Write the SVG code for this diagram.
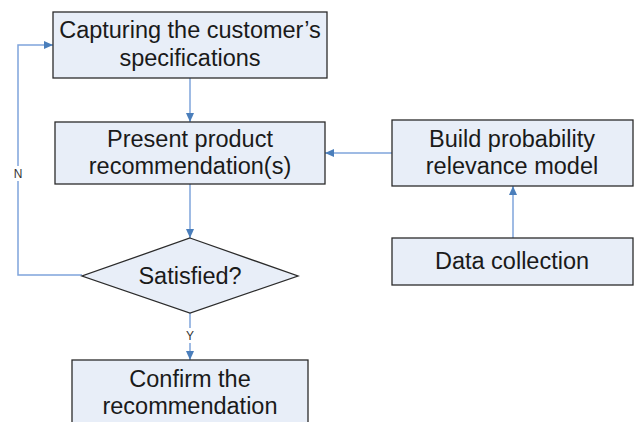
<svg xmlns="http://www.w3.org/2000/svg" width="635" height="422" viewBox="0 0 635 422">
<defs>
<style>
.box{fill:#e8eef8;stroke:#2b2b2b;stroke-width:1.3}
.t{font-family:"Liberation Sans",Arial,sans-serif;font-size:23.5px;fill:#1a1a1a;text-anchor:middle}
.lbl{font-family:"Liberation Sans",Arial,sans-serif;font-size:12px;fill:#333;text-anchor:middle}
.c{fill:none;stroke:#7fa4db;stroke-width:1.5}
</style>
<marker id="ah" viewBox="0 0 10 10" refX="10" refY="5" markerWidth="9" markerHeight="8" markerUnits="userSpaceOnUse" orient="auto" preserveAspectRatio="none">
<path d="M0,0 L10,5 L0,10 z" fill="#4a7ebb"/>
</marker>
</defs>
<rect width="635" height="422" fill="#fff"/>
<g id="connectors">
<line class="c" x1="190" y1="78" x2="190" y2="122" marker-end="url(#ah)"/>
<line class="c" x1="190" y1="184" x2="190" y2="238" marker-end="url(#ah)"/>
<line class="c" x1="190" y1="313" x2="190" y2="360" marker-end="url(#ah)"/>
<polyline class="c" points="82,275 18,275 18,45 53,45" marker-end="url(#ah)"/>
<line class="c" x1="392" y1="153" x2="325" y2="153" marker-end="url(#ah)"/>
<line class="c" x1="513" y1="238" x2="513" y2="186" marker-end="url(#ah)"/>
<rect x="12" y="166" width="12" height="15" fill="#fff"/>
<text class="lbl" x="18" y="178">N</text>
<rect x="184" y="328" width="12" height="15" fill="#fff"/>
<text class="lbl" x="190" y="340">Y</text>
</g>
<g id="capture">
<rect class="box" x="53" y="12" width="274" height="66"/>
<text class="t" x="190" y="38">Capturing the customer’s</text>
<text class="t" x="190" y="66">specifications</text>
</g>
<g id="present">
<rect class="box" x="55" y="122" width="270" height="62"/>
<text class="t" x="190" y="147">Present product</text>
<text class="t" x="190" y="174">recommendation(s)</text>
</g>
<g id="satisfied">
<polygon class="box" points="190,238 298,276 190,313 82,276"/>
<text class="t" x="190" y="284">Satisfied?</text>
</g>
<g id="confirm">
<rect class="box" x="72" y="360" width="236" height="70"/>
<text class="t" x="190" y="387">Confirm the</text>
<text class="t" x="190" y="414">recommendation</text>
</g>
<g id="build">
<rect class="box" x="392" y="120" width="241" height="66"/>
<text class="t" x="512" y="147">Build probability</text>
<text class="t" x="512" y="174">relevance model</text>
</g>
<g id="data">
<rect class="box" x="392" y="238" width="241" height="47"/>
<text class="t" x="512" y="269">Data collection</text>
</g>
</svg>
